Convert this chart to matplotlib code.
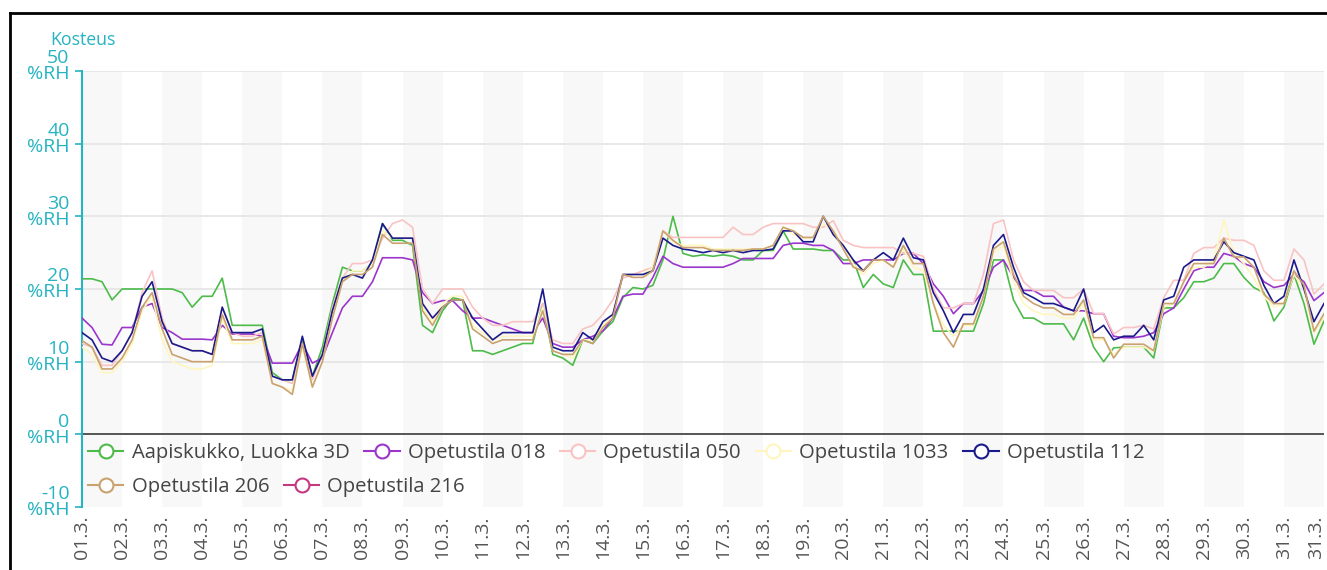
import numpy as np
import matplotlib.pyplot as plt
import matplotlib.transforms as mtransforms
from matplotlib.lines import Line2D

plt.rcParams['font.family'] = ['Open Sans', 'DejaVu Sans']

# ---- data: relative humidity (%RH), 6-hourly samples, 1.3. - 31.3. ----
days = ['01.3.', '02.3.', '03.3.', '04.3.', '05.3.', '06.3.', '07.3.', '08.3.',
        '09.3.', '10.3.', '11.3.', '12.3.', '13.3.', '14.3.', '15.3.', '16.3.',
        '17.3.', '18.3.', '19.3.', '20.3.', '21.3.', '22.3.', '23.3.', '24.3.',
        '25.3.', '26.3.', '27.3.', '28.3.', '29.3.', '30.3.', '31.3.']

names = ['Aapiskukko, Luokka 3D', 'Opetustila 018', 'Opetustila 050',
         'Opetustila 1033', 'Opetustila 112', 'Opetustila 206', 'Opetustila 216']

yvals = [-10, 0, 10, 20, 30, 40, 50]

aapiskukko_3d = [21.4, 21.4, 21, 18.5, 20, 20, 20, 20, 20, 20, 19.5, 17.5, 19, 19, 21.5, 15,
                 15, 15, 15, 8.5, 7.5, 7.5, 13, 8, 12, 18, 23, 22.5, 22.5, 23.5, 29, 26.7,
                 26.7, 26, 15, 14, 17, 18.8, 18.5, 11.5, 11.5, 11, 11.5, 12, 12.5, 12.5, 18, 11,
                 10.5, 9.5, 13, 12.5, 14.2, 15.5, 18.8, 20.2, 20, 20.5, 24, 30, 24.9, 24.5,
                 24.7, 24.5, 24.7, 24.5, 24, 24, 25.3, 25.3, 28, 25.5, 25.5, 25.5, 25.3, 25.3,
                 24, 24, 20.2, 22, 20.7, 20.2, 24, 22, 22, 14.2, 14.2, 14.2, 14.2, 14.2,
                 18, 24, 24, 18.5, 16, 16, 15.2, 15.2, 15.2, 13, 16, 12, 10, 11.9,
                 12, 12, 12, 10.5, 17.4, 17.4, 18.8, 21, 21, 21.5, 23.5, 23.5, 21.6, 20.2,
                 19.5, 15.6, 17.5, 22, 18, 12.4, 15.6]

opetustila_018 = [16, 14.7, 12.4, 12.3, 14.7, 14.7, 17.5, 18, 14.7, 14, 13.1, 13.1, 13.1, 13, 15, 13.8,
                  13.8, 13.8, 13.5, 9.8, 9.8, 9.8, 12.5, 9.8, 10.5, 14, 17.4, 19, 19, 21, 24.3, 24.3,
                  24.3, 24, 19.5, 18, 18.4, 18.4, 17, 16, 16, 15.5, 15, 14.5, 14, 14, 16, 12.5,
                  12, 12, 13, 13.5, 14.2, 16, 19, 19.3, 19.3, 21.6, 24.5, 23.5, 23, 23,
                  23, 23, 23, 23.5, 24.2, 24.2, 24.2, 24.2, 26, 26.3, 26.3, 26, 26, 25.3,
                  23.5, 23.5, 24, 24, 24, 24, 24.9, 24.9, 23.5, 20.7, 19, 16.6, 18, 18,
                  19.8, 23, 24, 21.6, 19.8, 19.8, 19, 19, 17.5, 17, 17, 16.6, 16.6, 13.5,
                  13.3, 13.3, 13.5, 14, 16.6, 17.4, 20, 22.5, 23, 23, 24.9, 24.5, 23.5, 23,
                  21, 20.2, 20.5, 22, 21, 18.4, 19.5]

opetustila_050 = [12.5, 12, 9.5, 9.5, 11.5, 14, 19.5, 22.5, 16, 12.5, 12, 11.5, 11.5, 11, 17.5, 14,
                  13.5, 13.5, 14, 8, 7.5, 7, 12.5, 7.5, 11, 17.5, 21.5, 23.5, 23.5, 24, 27, 29,
                  29.5, 28.5, 20, 18, 20, 20, 20, 17.5, 16, 15, 15, 15.5, 15.5, 15.5, 18, 13,
                  12.5, 12.5, 14.5, 15, 16.5, 18.5, 21.5, 22, 22.5, 23, 28, 27.1, 27.1, 27.1,
                  27.1, 27.1, 27.1, 28.5, 27.5, 27.5, 28.5, 29, 29, 29, 29, 28.5, 28.5, 29.4,
                  26.7, 26, 25.7, 25.7, 25.7, 25.7, 24.9, 24.9, 24.5, 20, 17.4, 17.4, 18, 18,
                  22, 29, 29.5, 24, 21, 19.8, 19.8, 19.8, 18.8, 18.8, 20, 16.6, 16.6, 13.8,
                  14.7, 14.7, 15, 14.5, 18.8, 21.2, 21.2, 24.9, 25.7, 25.7, 27, 26.7, 26.7, 26,
                  22.5, 21.2, 21.2, 25.5, 24, 19.3, 20.7]

opetustila_1033 = [12, 11, 8.5, 8.5, 10, 12.5, 17, 19, 13, 10, 9.5, 9, 9, 9.5, 16, 12.5,
                   12.5, 12.5, 13, 7, 6.5, 6, 12, 6.5, 10, 16, 21, 22.5, 22.5, 23.5, 28, 27,
                   27, 27, 17.5, 15.5, 18, 19, 19, 15, 14, 13, 13.5, 13.5, 13.5, 13.5, 17.5, 11.5,
                   11, 10.5, 13, 13, 15, 16.5, 22, 22, 22, 23, 28, 26.5, 26, 26,
                   26, 25.5, 25.5, 25.5, 25.5, 25.5, 25.5, 26, 28.5, 27.5, 27, 27, 29, 28,
                   26, 23.5, 22, 23.5, 24, 23, 25.5, 23, 22.5, 18, 15, 13.5, 15, 15,
                   19, 25, 26, 21, 18, 17, 16.5, 16.5, 16, 16, 18, 13, 13, 11,
                   12, 12, 12, 11.5, 17.5, 18, 21, 23, 23, 24, 29.5, 25, 23.5, 21.5,
                   19, 17.5, 18, 22, 20, 14, 16]

opetustila_112 = [14, 13, 10.5, 10, 11.5, 14, 19, 21, 15.5, 12.5, 12, 11.5, 11.5, 11, 17.5, 14,
                  14, 14, 14.5, 8, 7.5, 7.5, 13.5, 8, 11, 17, 21.5, 22, 21.5, 24, 29, 27,
                  27, 27, 18, 16, 17.5, 18.5, 18.5, 16, 14.5, 13, 14, 14, 14, 14, 20, 12,
                  11.5, 11.5, 14, 13, 15.5, 16.5, 22, 22, 22, 22.5, 27, 26, 25.5, 25.3,
                  25, 25.3, 25, 25.3, 25, 25.3, 25.3, 25.5, 28, 28, 26.5, 26.5, 30, 27.5,
                  26, 24, 22.5, 24, 25, 24, 27, 24.3, 24, 19.5, 17, 14, 16.5, 16.5,
                  20, 26, 27.5, 23, 19.5, 18.8, 18, 18, 17.5, 17, 20, 14, 15, 13,
                  13.5, 13.5, 15, 13, 18.5, 19, 23, 24, 24, 24, 26.5, 25, 24.5, 24,
                  20.5, 18, 19, 24, 20, 15.5, 18]

opetustila_206 = [12.9, 12, 9, 9, 10.5, 13, 17.5, 19.5, 14.5, 11, 10.5, 10, 10, 10, 16.5, 13,
                  13, 13, 13.5, 7, 6.5, 5.5, 12.5, 6.5, 10, 16, 21, 22, 22, 23, 27.5, 26.3,
                  26.3, 26.3, 17, 15, 17.5, 18.5, 18.5, 14.5, 13.5, 12.5, 13, 13, 13, 13, 17, 11.5,
                  11, 11, 13, 12.5, 14.7, 16, 22, 21.6, 21.6, 22.5, 28, 26.7, 25.7, 25.7,
                  25.7, 25.3, 25.3, 25.3, 25.3, 25.5, 25.5, 26, 28.5, 28, 27.1, 27.1, 30, 28,
                  25.5, 23, 22.5, 24, 24, 23, 26, 23.5, 23.5, 18, 14, 12, 15.2, 15.2,
                  19, 25.5, 26.5, 22, 19, 18, 17.4, 17.4, 16.5, 16.5, 18.5, 13.3, 13.3, 10.5,
                  12.4, 12.4, 12.4, 11.5, 18, 18, 21, 23.5, 23.5, 23.5, 27, 24.4, 24.4, 23,
                  19.3, 18, 18, 22.5, 20.5, 14.2, 16.6]

opetustila_216 = []  # no readings shown

series = [aapiskukko_3d, opetustila_018, opetustila_050, opetustila_1033,
          opetustila_112, opetustila_206, opetustila_216]
colors = ['#4dbb4a', '#9b35cc', '#f9c3c3', '#fff6bf', '#1b1a8c', '#c9a26f', '#c4387f']

t = np.arange(len(opetustila_112)) * 0.25  # days since 01.3. 00:00

teal = '#26b3c2'

fig = plt.figure(figsize=(13.27, 5.70), dpi=100)
ax = fig.add_axes([82 / 1327, 1 - 507 / 570, (1324 - 82) / 1327, (507 - 71) / 570])

# alternating day stripes
for d in range(0, 31, 2):
    ax.axvspan(d, d + 1, color='#f8f8f8', lw=0, zorder=0)

for y in yvals[2:]:
    ax.axhline(y, color='#e4e4e4', lw=1.2, zorder=1)
ax.axhline(0, color='#555555', lw=1.4, zorder=1)

for vals, c, n in zip(series, colors, names):
    if len(vals):
        ax.plot(t[:len(vals)], vals, color=c, lw=1.2, zorder=3, label=n)

ax.set_xlim(0, 31)
ax.set_ylim(-10, 50)

# y tick labels drawn by hand: two lines, sitting a little above the tick
ax.set_yticks(yvals)
ax.tick_params(axis='y', colors=teal, length=5, width=1.2, labelleft=False)
ytrans = mtransforms.offset_copy(ax.get_yaxis_transform(), fig=fig, x=-9, y=3.3, units='points')
for v in yvals:
    ax.text(0, v, f'{v}\n%RH', transform=ytrans, color=teal, fontsize=14,
            ha='right', va='center', multialignment='right', linespacing=0.85)

xt = list(range(31)) + [30.8]
ax.set_xticks(xt)
ax.set_xticklabels(days + ['31.3.'], rotation=90, color='#555555', fontsize=14)
ax.tick_params(axis='x', length=0, pad=6)

for s in ['top', 'right', 'bottom']:
    ax.spines[s].set_visible(False)
ax.spines['left'].set_color(teal)
ax.spines['left'].set_linewidth(1.5)

fig.text(50 / 1327, 1 - 40 / 570, 'Kosteus', color=teal, fontsize=12.8,
         ha='left', va='center')

# legend (two rows, flowing like the original)
def proxy(c):
    return Line2D([], [], color=c, lw=1.5, marker='o', markersize=10,
                  markerfacecolor='white', markeredgewidth=1.5)

leg_kw = dict(frameon=False, fontsize=14.6, handlelength=1.75, handletextpad=0.4,
              columnspacing=0.72, borderpad=0, borderaxespad=0,
              labelcolor='#444444', loc='center left')
leg1 = fig.legend([proxy(c) for c in colors[:5]], names[:5], ncol=5,
                  bbox_to_anchor=(88 / 1327, 1 - 453 / 570), **leg_kw)
leg2 = fig.legend([proxy(c) for c in colors[5:]], names[5:], ncol=2,
                  bbox_to_anchor=(88 / 1327, 1 - 487 / 570), **leg_kw)

# outer frame (left and top edges only)
fig.add_artist(Line2D([10 / 1327, 10 / 1327], [0, 1 - 13 / 570], color='black', lw=2,
                      transform=fig.transFigure))
fig.add_artist(Line2D([10 / 1327, 1], [1 - 13 / 570, 1 - 13 / 570], color='black', lw=2,
                      transform=fig.transFigure))

fig.savefig('out.png', dpi=100, facecolor='white')
